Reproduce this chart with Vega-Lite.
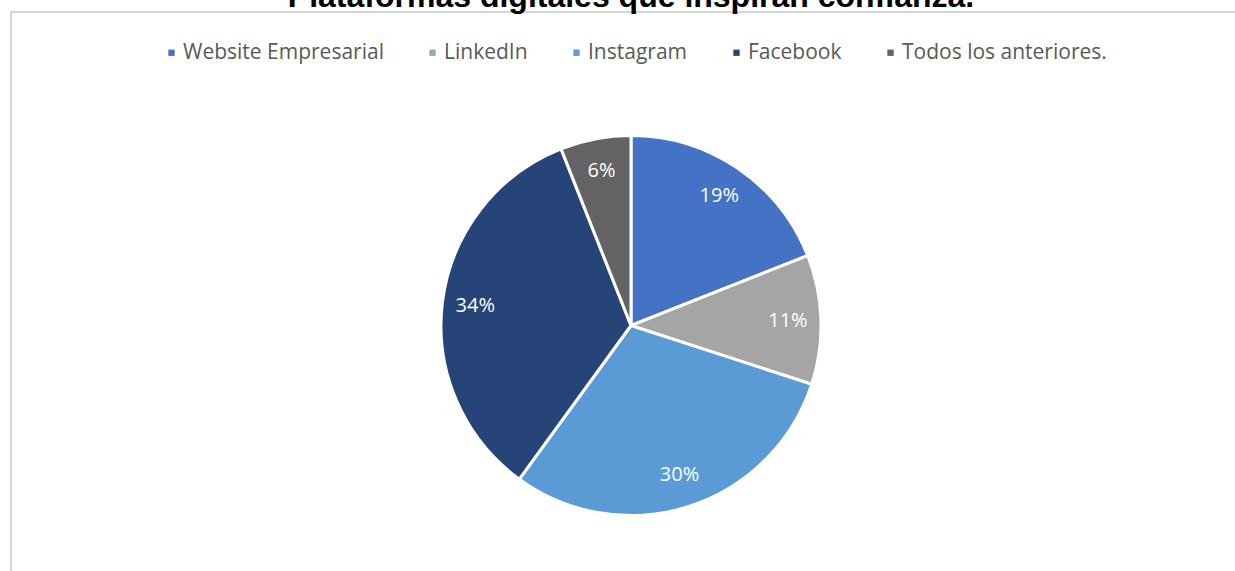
{
  "$schema": "https://vega.github.io/schema/vega-lite/v6.json",
  "autosize": "none",
  "width": 1240,
  "height": 627,
  "padding": {"left": 11, "top": 12, "right": -16, "bottom": -68},
  "background": "white",
  "view": {"stroke": "#d6d6d6", "strokeWidth": 2},
  "title": {
    "text": "Plataformas digitales que inspiran confianza.",
    "font": "Liberation Sans",
    "fontSize": 32,
    "fontWeight": "bold",
    "color": "#000000",
    "anchor": "middle",
    "frame": "group",
    "baseline": "alphabetic",
    "offset": 6,
    "dy": 33
  },
  "config": {
    "legend": {"padding": 0}
  },
  "data": {
    "values": [
      {"plataforma": "Website Empresarial", "valor": 0.19, "orden": 1},
      {"plataforma": "LinkedIn", "valor": 0.11, "orden": 2},
      {"plataforma": "Instagram", "valor": 0.30, "orden": 3},
      {"plataforma": "Facebook", "valor": 0.34, "orden": 4},
      {"plataforma": "Todos los anteriores.", "valor": 0.06, "orden": 5}
    ]
  },
  "encoding": {
    "theta": {"field": "valor", "type": "quantitative", "stack": true},
    "order": {"field": "orden", "type": "quantitative"},
    "color": {
      "field": "plataforma",
      "type": "nominal",
      "scale": {
        "domain": ["Website Empresarial", "LinkedIn", "Instagram", "Facebook", "Todos los anteriores."],
        "range": ["#4472C4", "#A5A5A5", "#5B9BD5", "#264478", "#636363"]
      },
      "legend": {
        "title": null,
        "orient": "none",
        "legendX": 150,
        "legendY": 30,
        "direction": "horizontal",
        "columnPadding": 38,
        "symbolType": "square",
        "symbolSize": 40,
        "symbolStrokeWidth": 0,
        "labelOffset": 1,
        "labelFont": "Open Sans",
        "labelFontSize": 21,
        "labelColor": "#595959",
        "labelLimit": 400
      }
    }
  },
  "layer": [
    {
      "mark": {"type": "arc", "outerRadius": 190, "stroke": "white", "strokeWidth": 3}
    },
    {
      "mark": {"type": "text", "radius": 157, "font": "Open Sans", "fontSize": 20, "fill": "white", "align": "center", "baseline": "middle"},
      "encoding": {
        "text": {"field": "valor", "type": "quantitative", "format": ".0%"},
        "color": {"value": "white"}
      }
    }
  ]
}
